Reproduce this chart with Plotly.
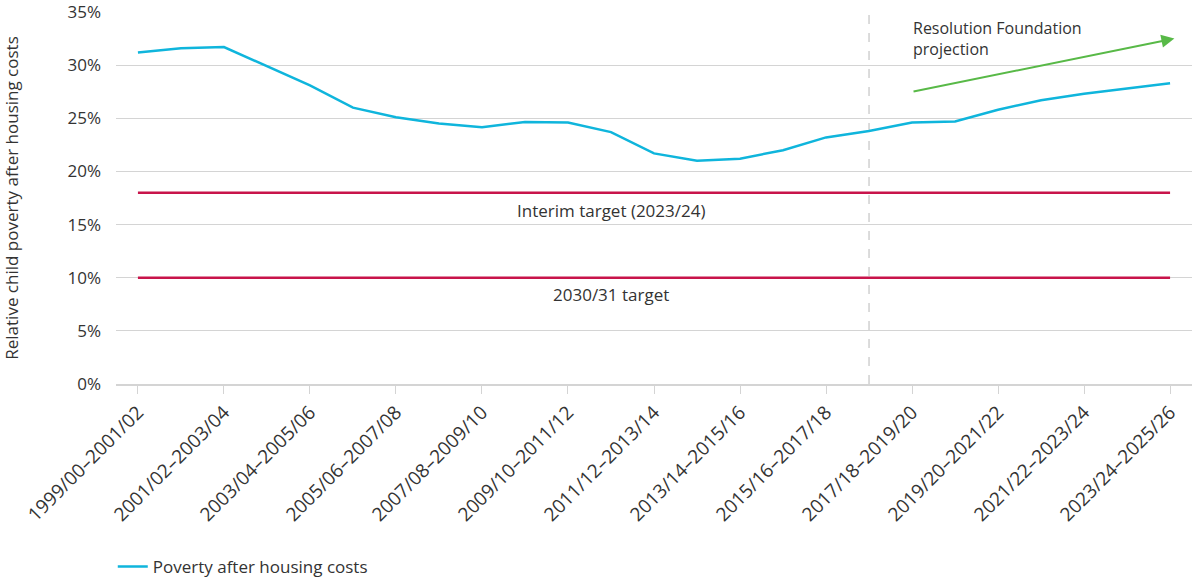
import plotly.graph_objects as go

# Periods (three-year averages), one per point on the x axis
periods = [
    "1999/00–2001/02", "2000/01–2002/03", "2001/02–2003/04", "2002/03–2004/05",
    "2003/04–2005/06", "2004/05–2006/07", "2005/06–2007/08", "2006/07–2008/09",
    "2007/08–2009/10", "2008/09–2010/11", "2009/10–2011/12", "2010/11–2012/13",
    "2011/12–2013/14", "2012/13–2014/15", "2013/14–2015/16", "2014/15–2016/17",
    "2015/16–2017/18", "2016/17–2018/19", "2017/18–2019/20", "2018/19–2020/21",
    "2019/20–2021/22", "2020/21–2022/23", "2021/22–2023/24", "2022/23–2024/25",
    "2023/24–2025/26",
]
# Relative child poverty after housing costs (%)
poverty_ahc = [
    31.2, 31.6, 31.7, 29.9, 28.1, 26.0, 25.1, 24.5, 24.15, 24.65,
    24.6, 23.7, 21.7, 21.0, 21.2, 22.0, 23.2, 23.8, 24.6, 24.7,
    25.8, 26.7, 27.3, 27.8, 28.3,
]
tick_labels = periods[::2]

interim_target = 18
final_target = 10
projection_split = "2016/17–2018/19"
# Resolution Foundation projection arrow: (start period, start %), (end index, end %)
projection_start = ("2017/18–2019/20", 27.5)
projection_end = (24.1, 32.5)

blue = "#0fb5dc"
red = "#c8144b"
green = "#58b947"
text_col = "#333333"
grid_col = "#d4d4d4"
fnt = "Open Sans, Lato, sans-serif"

fig = go.Figure()

fig.add_scatter(x=periods, y=poverty_ahc, mode="lines", name="Poverty after housing costs",
                line=dict(color=blue, width=2.5))
fig.add_scatter(x=[periods[0], periods[-1]], y=[interim_target, interim_target], mode="lines",
                line=dict(color=red, width=2.5), showlegend=False, hoverinfo="skip")
fig.add_scatter(x=[periods[0], periods[-1]], y=[final_target, final_target], mode="lines",
                line=dict(color=red, width=2.5), showlegend=False, hoverinfo="skip")

# Split between actuals and projections
fig.add_shape(type="line", x0=projection_split, x1=projection_split, y0=0, y1=35,
              xref="x", yref="y", line=dict(color="#c4c4c4", width=1.2, dash="dash"), layer="below")

# Projection arrow
fig.add_annotation(x=projection_end[0], y=projection_end[1], ax=projection_start[0], ay=projection_start[1],
                   xref="x", yref="y", axref="x", ayref="y", text="", showarrow=True,
                   arrowhead=2, arrowsize=1.3, arrowwidth=2, arrowcolor=green)

fig.add_annotation(x=projection_start[0], y=32.5, text="Resolution Foundation<br>projection",
                   showarrow=False, xanchor="left", yanchor="middle", align="left",
                   font=dict(size=16, color=text_col), xshift=-1)
fig.add_annotation(x=11, y=16.3, text="Interim target (2023/24)", showarrow=False,
                   yanchor="middle", font=dict(size=17, color=text_col))
fig.add_annotation(x=11, y=8.4, text="2030/31 target", showarrow=False,
                   yanchor="middle", font=dict(size=17, color=text_col))

fig.update_xaxes(type="category", categoryorder="array", categoryarray=periods,
                 range=[-0.51, 24.51], tickmode="array", automargin=False,
                 tickvals=tick_labels, ticktext=tick_labels, tickangle=-45,
                 ticks="outside", ticklen=8, tickcolor=grid_col, showgrid=False,
                 showline=True, linecolor=grid_col, linewidth=1.5,
                 tickfont=dict(size=19, color=text_col))
fig.update_yaxes(range=[0, 35], dtick=5, ticksuffix="%", showgrid=True, gridcolor=grid_col,
                 gridwidth=1, zeroline=False, ticks="", ticklabelstandoff=14, automargin=False,
                 ticklabeloverflow="allow",
                 tickfont=dict(size=17, color=text_col),
                 title=dict(text="Relative child poverty after housing costs",
                            font=dict(size=17, color=text_col), standoff=44))

fig.update_layout(width=1194, height=581, plot_bgcolor="white", paper_bgcolor="white",
                  font=dict(family=fnt, color=text_col),
                  margin=dict(l=116, r=2, t=12, b=197, autoexpand=False),
                  legend=dict(orientation="h", x=-0.003, xanchor="left", y=-0.492, yanchor="middle",
                              font=dict(size=17, color=text_col)))

# page body margin off so the chart sits at the window's top-left corner
fig.write_html("out.html", config={"displayModeBar": False},
               post_script="document.body.style.margin='0px';")
